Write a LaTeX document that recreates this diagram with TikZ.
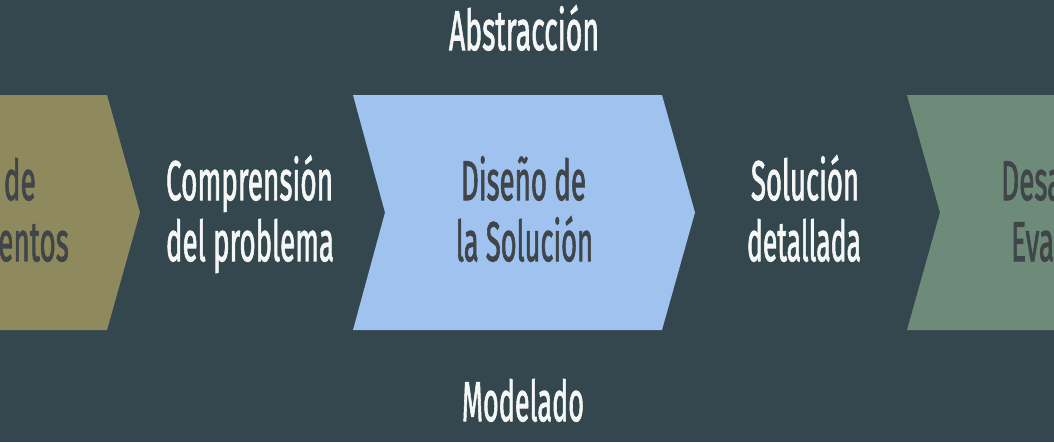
\documentclass[tikz,border=0pt]{standalone}
\usepackage{fontspec}
\usepackage{graphicx}
\setmainfont{Fira Sans}[FakeBold=2]
\definecolor{bgc}{HTML}{34474E}
\definecolor{olivec}{HTML}{8E8A5E}
\definecolor{bluec}{HTML}{A0C2EE}
\definecolor{greenc}{HTML}{6E8B7A}
\definecolor{darktxt}{HTML}{3F4548}
\definecolor{lighttxt}{HTML}{F5F6F6}
\newlength\refw
\newcommand\fitw[2]{\resizebox{#1}{\height}{#2}}
\newcommand\sq[1]{\settowidth\refw{Comprensión}\pgfmathsetmacro\hs{167pt/\refw}\scalebox{\hs}[1]{#1}}
\begin{document}
\begin{tikzpicture}[x=1pt,y=-1pt,
  lab/.style={inner sep=0pt, anchor=base, font=\fontsize{56}{60}\selectfont},
  wlab/.style={lab, text=lighttxt},
  dlab/.style={lab, text=darktxt}]
\useasboundingbox (0,0) rectangle (1054,442);
\fill[bgc] (0,0) rectangle (1054,442);
\begin{scope}
\clip (0,0) rectangle (1054,442);
% chevrons
\fill[olivec] (-5,95) -- (107,95) -- (140,212.5) -- (107,330) -- (-5,330) -- cycle;
\fill[bluec] (353,95) -- (662,95) -- (695,212.5) -- (662,330) -- (353,330) -- (385,212.5) -- cycle;
\fill[greenc] (907,95) -- (1060,95) -- (1060,330) -- (907,330) -- (940,212.5) -- cycle;
% texts
\node[wlab] (comp1) at (249.5,200) {\fitw{167pt}{Comprensión}};
\node[wlab] (comp2) at (250,261) {\fitw{168pt}{del problema}};
\node[dlab] (dis1) at (523.5,200) {\fitw{125pt}{Diseño de}};
\node[dlab] (dis2) at (524.5,261) {\fitw{137pt}{la Solución}};
\node[wlab] (sol1) at (805,200) {\fitw{108pt}{Solución}};
\node[wlab] (sol2) at (804,261) {\fitw{114pt}{detallada}};
\node[wlab] (abs) at (524,50) {\fitw{150pt}{Abstracción}};
\node[wlab] (mod) at (523,421) {\fitw{122pt}{Modelado}};
\node[dlab, anchor=base east] (req1) at (36,200) {\sq{de}};
\node[dlab, anchor=base east] (req2) at (69,261) {\sq{entos}};
\node[dlab, anchor=base west] (des1) at (1001,200) {\sq{Desa}};
\node[dlab, anchor=base west] (des2) at (1011,261) {\sq{Eva}};
\end{scope}
\end{tikzpicture}
\end{document}
